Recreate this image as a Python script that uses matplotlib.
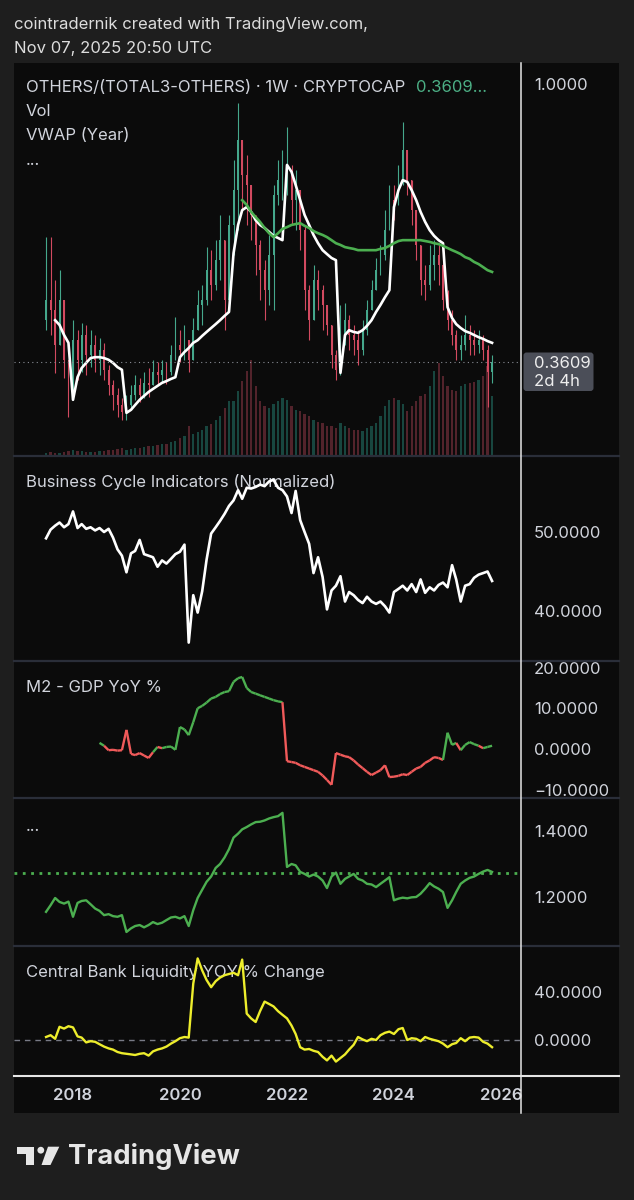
import numpy as np
import pandas as pd
import matplotlib
matplotlib.use('Agg')
import matplotlib.pyplot as plt
import matplotlib.dates as mdates
from matplotlib.patches import Rectangle, FancyBboxPatch, Polygon, Circle
from matplotlib.collections import LineCollection
from matplotlib.ticker import FuncFormatter

plt.rcParams['font.family'] = ['Inter', 'DejaVu Sans']

# ---------------------------------------------------------
# Data (monthly readings)
# ---------------------------------------------------------
candle_start = '2017-07-01'
candle_open_first = 0.457
candle_close = [.503, .480, .400, .503, .366, .285, .411, .366, .423, .377,
                .400, .366, .389, .343, .308, .285, .262, .246, .262, .285,
                .308, .285, .313, .308, .338, .331, .343, .338, .377, .400,
                .389, .411, .366, .434, .492, .503, .572, .538, .595, .641,
                .503, .676, .756, .871, .791, .768, .699, .630, .572, .526,
                .607, .745, .779, .802, .802, .733, .756, .664, .526, .457,
                .549, .526, .492, .446, .377, .343, .423, .457, .423, .411,
                .389, .434, .480, .526, .572, .607, .664, .733, .722, .779,
                .848, .779, .710, .630, .549, .538, .584, .607, .584, .503,
                .457, .423, .389, .400, .423, .411, .400, .411, .389, .338,
                .361]
candle_high = [.648, .648, .549, .572, .503, .366, .457, .434, .451, .446,
               .434, .423, .416, .405, .354, .320, .301, .278, .285, .308,
               .331, .324, .338, .347, .366, .361, .366, .361, .400, .464,
               .434, .446, .411, .462, .526, .538, .625, .618, .641, .699,
               .572, .699, .825, .956, .864, .837, .768, .699, .641, .595,
               .653, .768, .825, .848, .901, .814, .802, .756, .676, .538,
               .584, .572, .538, .480, .446, .389, .492, .497, .469, .446,
               .434, .457, .503, .549, .600, .630, .710, .768, .768, .814,
               .913, .825, .768, .676, .618, .584, .630, .641, .630, .618,
               .526, .480, .434, .423, .469, .446, .434, .434, .423, .400,
               .377]
candle_low = [.434, .423, .336, .400, .324, .234, .274, .320, .338, .331,
              .349, .338, .331, .320, .285, .251, .234, .228, .228, .251,
              .274, .269, .278, .280, .308, .308, .315, .310, .331, .366,
              .361, .366, .338, .370, .434, .446, .492, .503, .526, .549,
              .434, .480, .607, .664, .710, .676, .641, .561, .503, .457,
              .492, .480, .722, .733, .745, .676, .664, .618, .480, .411,
              .457, .480, .434, .423, .347, .320, .331, .400, .389, .377,
              .354, .377, .423, .480, .526, .561, .595, .676, .687, .733,
              .768, .745, .676, .595, .515, .503, .526, .549, .538, .480,
              .434, .400, .366, .366, .389, .377, .377, .381, .366, .257,
              .313]
volume = [3, 4, 3, 3, 4, 5, 6, 5, 5, 4,
          4, 4, 5, 5, 6, 6, 7, 8, 6, 7,
          8, 8, 9, 10, 10, 11, 12, 12, 14, 15,
          18, 20, 30, 22, 24, 26, 30, 32, 36, 40,
          48, 55, 55, 65, 75, 85, 96, 70, 55, 50,
          48, 52, 55, 58, 56, 50, 46, 45, 42, 40,
          36, 34, 33, 30, 30, 28, 33, 30, 28, 26,
          26, 25, 28, 30, 33, 40, 50, 56, 58, 56,
          52, 45, 50, 55, 60, 62, 70, 85, 93, 80,
          70, 66, 65, 70, 72, 73, 74, 76, 80, 90,
          60]
last_price = 0.3609

vwap_start = '2017-09-01'
vwap = [.457, .446, .423, .405,
        .274, .326, .347, .359, .370, .372, .372, .370, .366, .359, .349, .343,
        .244, .251, .262, .274, .283, .292, .299, .306, .313, .317, .322, .326,
        .372, .384, .393, .405, .411, .421, .430, .439, .448, .457, .467, .476,
        .611, .676, .710, .717, .706, .687, .676, .669, .660, .651, .646, .641,
        .814, .798, .768, .733, .699, .676, .653, .634, .618, .609, .600, .595,
        .336, .423, .434, .430, .428, .434, .444, .457, .476, .492, .510, .526,
        .717, .756, .779, .775, .756, .733, .706, .683, .664, .651, .641, .634,
        .487, .462, .448, .439, .432, .428, .423, .418, .414, .409, .405]

ma_start = '2021-03-01'
ma200 = [.733, .722, .706, .694, .683, .669, .657, .648, .657, .667,
         .671, .676, .678, .680, .674, .669, .662, .657, .653, .648,
         .641, .634, .630, .625, .623, .621, .618, .618, .618, .618,
         .618, .621, .623, .628, .634, .639, .641, .641, .641, .641,
         .641, .639, .637, .634, .632, .628, .623, .618, .614, .609,
         .602, .598, .591, .586, .579, .572, .568]

cycle_start = '2017-07-01'
business_cycle = [49.2, 50.3, 50.8, 51.2, 50.6, 51.0, 52.6, 50.5, 51.0, 50.4,
                  50.6, 50.2, 50.5, 50.0, 50.4, 49.3, 47.8, 47.0, 44.9, 47.3,
                  47.6, 49.0, 47.2, 47.0, 46.8, 45.6, 46.4, 46.0, 46.6, 47.2,
                  47.5, 48.4, 36.0, 42.0, 39.8, 42.5, 46.5, 49.8, 50.6, 51.4,
                  52.3, 53.3, 54.0, 55.3, 54.2, 55.6, 55.5, 55.7, 56.0, 55.8,
                  56.4, 56.6, 55.6, 55.3, 54.5, 52.4, 55.2, 51.5, 50.0, 48.5,
                  44.8, 46.8, 44.3, 40.2, 42.6, 43.2, 44.4, 41.2, 42.4, 42.0,
                  41.4, 41.0, 41.8, 41.2, 40.9, 41.2, 40.6, 39.8, 42.4, 42.8,
                  43.2, 42.6, 43.4, 42.4, 44.0, 42.3, 43.0, 42.6, 43.3, 43.6,
                  43.0, 45.8, 44.0, 41.2, 43.2, 43.4, 44.2, 44.6, 44.8, 45.0,
                  43.8]

m2_start = '2018-07-01'
m2_gdp = [1.5, 0.8, -0.3, -0.2, -0.4, -0.3, 4.7, -1.2,
          -1.5, -1.0, -1.6, -2.2, -0.8, 0.5, 0.2, 0.5, 0.6, -0.2,
          5.4, 4.8, 3.4, 6.6, 10.0, 10.6, 11.4, 12.4, 12.8, 13.5,
          14.0, 14.2, 16.5, 17.4, 17.7, 15.0, 14.0, 13.6, 13.2, 12.8,
          12.4, 12.0, 11.7, 11.5, -3.0, -3.2, -3.4, -4.0, -4.4, -4.8,
          -5.2, -5.6, -6.5, -7.6, -8.8, -1.0, -1.4, -1.8, -2.0, -2.8,
          -3.8, -4.7, -5.6, -6.4, -5.8, -5.2, -4.0, -6.9, -6.8, -6.6,
          -6.2, -6.4, -5.6, -4.8, -4.4, -3.4, -2.8, -2.0, -2.2, -2.7,
          4.0, 1.0, 1.5, -0.3, 1.0, 1.7, 1.2, 0.8, 0.2, 0.5,
          0.8]
m2_state = ('gg' + 'r' * 11 + 'gr' + 'g' * 27 + 'r' * 36
            + 'ggg' + 'r' + 'gggg' + 'r' + 'gg')

ratio_start = '2017-07-01'
ratio = [1.155, 1.175, 1.197, 1.185, 1.180, 1.186, 1.140, 1.182, 1.188, 1.190,
         1.178, 1.165, 1.158, 1.145, 1.148, 1.142, 1.140, 1.145, 1.094, 1.105,
         1.112, 1.115, 1.108, 1.115, 1.124, 1.118, 1.122, 1.130, 1.138, 1.140,
         1.135, 1.142, 1.112, 1.160, 1.197, 1.222, 1.246, 1.262, 1.288, 1.300,
         1.320, 1.345, 1.380, 1.392, 1.405, 1.412, 1.420, 1.427, 1.428, 1.432,
         1.438, 1.442, 1.445, 1.455, 1.291, 1.300, 1.296, 1.276, 1.270, 1.262,
         1.268, 1.262, 1.250, 1.227, 1.262, 1.274, 1.240, 1.255, 1.262, 1.270,
         1.255, 1.250, 1.240, 1.238, 1.230, 1.240, 1.250, 1.260, 1.190, 1.195,
         1.198, 1.196, 1.199, 1.200, 1.210, 1.225, 1.242, 1.232, 1.225, 1.215,
         1.167, 1.190, 1.215, 1.240, 1.250, 1.258, 1.262, 1.270, 1.277, 1.282,
         1.276]
ratio_level = 1.2727

cbl_start = '2017-07-01'
cb_liquidity = [2.5, 4.0, 1.0, 11.0, 9.5, 11.5, 10.5, 3.0, 2.0, -2.0,
                -1.0, -1.5, -3.5, -5.5, -7.0, -8.0, -10.0, -11.0, -11.5, -12.0,
                -12.5, -11.5, -11.0, -13.0, -9.5, -8.0, -7.0, -5.5, -3.0, -1.0,
                1.5, 2.5, 2.0, 47.0, 68.0, 58.0, 50.0, 44.0, 49.0, 52.0,
                54.0, 55.0, 56.0, 54.0, 67.0, 22.0, 18.0, 15.0, 24.0, 32.0,
                30.0, 28.0, 24.0, 21.0, 18.0, 12.0, 5.0, -6.0, -8.0, -7.5,
                -9.0, -10.0, -14.0, -17.0, -13.0, -18.0, -15.0, -12.0, -8.0, -4.0,
                2.5, 0.5, -1.0, 1.0, 0.0, 4.0, 6.0, 7.0, 5.0, 9.0,
                10.0, 0.0, 1.5, 1.0, -1.0, 2.5, 1.0, 0.0, -1.0, -3.0,
                -6.0, -3.5, -2.5, 1.5, -1.0, 2.0, 2.5, 2.0, -1.5, -3.0,
                -6.0]

year_ticks = ['2018', '2020', '2022', '2024', '2026']

# ---------------------------------------------------------
# Layout helpers (pixel space of the 634x1200 screenshot)
# ---------------------------------------------------------
W, H = 634, 1200
BG = '#1e1e1e'
PANE = '#0b0b0b'
TXT = '#d1d4dc'
UP, DN = '#45a88c', '#d24a60'
UP_V, DN_V = '#18463f', '#52232b'
GREEN, RED, YELLOW = '#4caf50', '#f05a5a', '#eded2c'
FS = 12


def rect(x0, y0, x1, y1):
    return [x0 / W, 1 - y1 / H, (x1 - x0) / W, (y1 - y0) / H]


def months(start, n):
    return mdates.date2num(pd.date_range(start, periods=n, freq='MS').to_pydatetime())


d18 = mdates.date2num(pd.Timestamp('2018-01-01').to_pydatetime())
d26 = mdates.date2num(pd.Timestamp('2026-01-01').to_pydatetime())
ppd = (501 - 73) / (d26 - d18)
XLIM = (d18 - (73 - 14) / ppd, d18 + (521 - 73) / ppd)
fmt = FuncFormatter(lambda v, p: f'{v:.4f}'.replace('-', '\u2212'))

fig = plt.figure(figsize=(W / 100, H / 100), dpi=100, facecolor=BG)

# background layer: chart box + pane titles
bg = fig.add_axes([0, 0, 1, 1], zorder=0)
bg.set_xlim(0, W)
bg.set_ylim(H, 0)
bg.axis('off')
bg.add_patch(Rectangle((14, 63), 605, 1050, facecolor=PANE, edgecolor='none'))
bg.text(14, 25, 'cointradernik created with TradingView.com,', color='#dcdcdc',
        fontsize=12, va='center')
bg.text(14, 49, 'Nov 07, 2025 20:50 UTC', color='#dcdcdc', fontsize=12, va='center')

bg.text(26, 88, 'OTHERS/(TOTAL3-OTHERS) · 1W · CRYPTOCAP', color=TXT,
        fontsize=FS, va='center')
bg.text(416, 88, '0.3609...', color='#4caf85', fontsize=FS, va='center')
bg.text(26, 112, 'Vol', color=TXT, fontsize=FS, va='center')
bg.text(26, 136, 'VWAP (Year)', color=TXT, fontsize=FS, va='center')
bg.text(26, 165, '...', color=TXT, fontsize=FS, va='baseline')
bg.text(26, 482, 'Business Cycle Indicators (Normalized)', color=TXT, fontsize=FS, va='center')
bg.text(26, 688, 'M2 - GDP YoY %', color=TXT, fontsize=FS, va='center')
bg.text(26, 831, '...', color=TXT, fontsize=FS, va='baseline')
bg.text(26, 972, 'Central Bank Liquidity YOY % Change', color=TXT, fontsize=FS, va='center')


def pane(y0, y1, ylim, ticks, z=1):
    ax = fig.add_axes(rect(14, y0, 521, y1), zorder=z)
    ax.set_facecolor('none')
    ax.set_xlim(XLIM)
    ax.set_ylim(ylim)
    for s in ax.spines.values():
        s.set_visible(False)
    ax.yaxis.tick_right()
    ax.set_yticks(ticks)
    ax.yaxis.set_major_formatter(fmt)
    ax.tick_params(axis='y', length=0, pad=9.4, labelsize=FS, labelcolor=TXT)
    ax.tick_params(axis='x', length=0, labelbottom=False)
    return ax


# --- Pane 1: candles, volume, VWAP, long MA ---
ax_vol = pane(63, 456, (0, 393), [], z=1)
ax1 = pane(63, 456, (0.1448, 1.0483), [1.0], z=2)

cx = months(candle_start, len(candle_close))
c = np.array(candle_close)
o = np.r_[candle_open_first, c[:-1]]
hi = np.maximum(np.array(candle_high), np.maximum(o, c))
lo = np.minimum(np.array(candle_low), np.minimum(o, c))
up = c >= o
ax_vol.bar(cx, volume, width=15, color=np.where(up, UP_V, DN_V), linewidth=0)
ax1.vlines(cx, lo, hi, colors=np.where(up, UP, DN), lw=0.8)
ax1.bar(cx, np.maximum(np.abs(c - o), 0.004), bottom=np.minimum(o, c), width=11,
        color=np.where(up, UP, DN), linewidth=0)
ax1.plot(months(vwap_start, len(vwap)), vwap, color='white', lw=1.9)
ax1.plot(months(ma_start, len(ma200)), ma200, color=GREEN, lw=1.9)
ax1.axhline(last_price, color='#8a8d96', lw=0.8, ls=(0, (1, 3)))

# --- Pane 2: business cycle ---
ax2 = pane(456, 661, (33.67, 59.62), [40, 50])
ax2.plot(months(cycle_start, len(business_cycle)), business_cycle, color='white', lw=1.9)

# --- Pane 3: M2 - GDP, coloured per step ---
ax3 = pane(661, 798, (-12.04, 21.62), [-10, 0, 10, 20])
mx = months(m2_start, len(m2_gdp))
pts = np.column_stack([mx, m2_gdp])
segs = np.stack([pts[:-1], pts[1:]], axis=1)
seg_cols = [GREEN if s == 'g' else RED for s in m2_state[1:]]
ax3.add_collection(LineCollection(segs, colors=seg_cols, linewidths=1.7))

# --- Pane 4: ratio with dotted level ---
ax4 = pane(798, 946, (1.0515, 1.5), [1.2, 1.4])
ax4.axhline(ratio_level, color=GREEN, lw=2, ls=(0, (1, 2)), dash_capstyle='butt')
ax4.plot(months(ratio_start, len(ratio)), ratio, color=GREEN, lw=1.7)

# --- Pane 5: central bank liquidity ---
ax5 = pane(946, 1076, (-30, 78.33), [0, 40])
ax5.axhline(0, color='#787b86', lw=1, ls=(0, (4, 3.5)))
ax5.plot(months(cbl_start, len(cb_liquidity)), cb_liquidity, color=YELLOW, lw=1.7)
ax5.set_xticks(months('2018-01-01', 97)[::24])
ax5.set_xticklabels(year_ticks)
ax5.tick_params(axis='x', labelbottom=True, pad=9, labelsize=FS, labelcolor=TXT)
for lab in ax5.get_xticklabels():
    lab.set_fontweight('semibold')

# overlay: separators, price tag, logo
ov = fig.add_axes([0, 0, 1, 1], zorder=5)
ov.set_facecolor('none')
ov.set_xlim(0, W)
ov.set_ylim(H, 0)
ov.axis('off')
for yy in (456, 661, 798, 946):
    ov.plot([14, 619], [yy, yy], color='#2a2e39', lw=1.6)
ov.plot([14, 619], [1076, 1076], color='#e6e6e6', lw=1.5)
ov.plot([521, 521], [63, 1113], color='#e6e6e6', lw=1.1)
ov.add_patch(FancyBboxPatch((523.5, 352.5), 70, 38.5, boxstyle='round,pad=0,rounding_size=3',
                            facecolor='#4b4e58', edgecolor='none'))
ov.text(534, 363, '0.3609', color='#eeeeee', fontsize=FS, va='center')
ov.text(534, 382, '2d 4h', color='#eeeeee', fontsize=FS, va='center')

LOGO = '#e6e6e6'
ov.add_patch(Polygon([(16.7, 1146.7), (34, 1146.7), (34, 1165), (25.5, 1165),
                      (25.5, 1153.5), (16.7, 1153.5)], closed=True, facecolor=LOGO, edgecolor='none'))
ov.add_patch(Circle((40.8, 1150.2), 3.4, facecolor=LOGO, edgecolor='none'))
ov.add_patch(Polygon([(48, 1146.7), (59.3, 1146.7), (50.5, 1165), (41.5, 1165)],
                     closed=True, facecolor=LOGO, edgecolor='none'))
ov.text(68, 1156, 'TradingView', color=LOGO, fontsize=19.7, fontweight='bold', va='center')

fig.savefig('out.png', dpi=100, facecolor=BG)
